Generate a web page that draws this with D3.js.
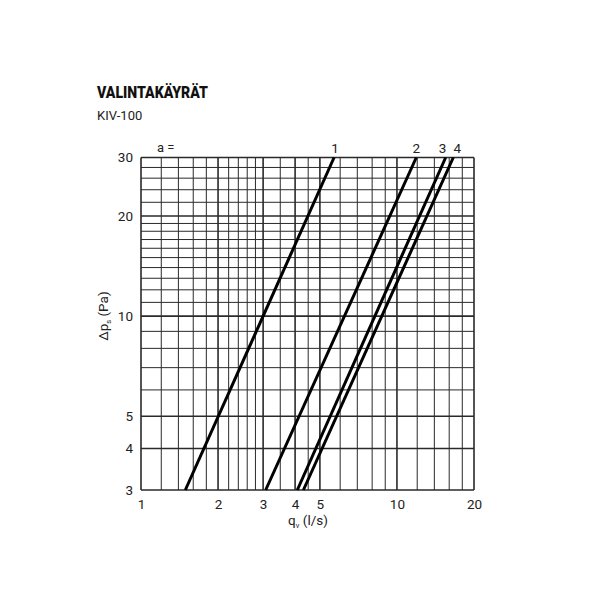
<!DOCTYPE html>
<html><head><meta charset="utf-8">
<script src="https://cdn.jsdelivr.net/npm/d3@7"></script>
<style>body{margin:0;background:#fff;} svg{display:block;font-family:Roboto, "Noto Sans", sans-serif;}</style>
</head><body>
<script>
// Data
const curveNames = ["1", "2", "3", "4"];
const dpRange = [3, 30];                    // Δp (Pa) at the start and end of each curve
const qAtStart = [1.49, 3.07, 4.08, 4.31];  // q (l/s) at Δp = 3
const qAtEnd = [5.68, 11.9, 15.5, 16.6];    // q (l/s) at Δp = 30
const xTickLabels = [1, 2, 3, 4, 5, 10, 20];
const yTickLabels = [3, 4, 5, 10, 20, 30];
const xGrid = [1,1.2,1.4,1.6,1.8,2,2.2,2.4,2.6,2.8,3,3.5,4,4.5,5,6,7,8,9,10,12,14,16,18,20];
const yGrid = [3,4,5,6,7,8,9,10,11,12,13,14,15,16,17,18,19,20,22,24,26,28,30];

const W = 607, H = 600;
const svg = d3.select("body").append("svg").attr("width", W).attr("height", H);

const x = d3.scaleLog().domain([1, 20]).range([141, 474]);
const y = d3.scaleLog().domain([3, 30]).range([490, 157.5]);

svg.append("text").attr("x", 97).attr("y", 98).attr("font-size", 16).attr("font-weight", "900")
  .attr("fill", "#111").attr("textLength", 111).attr("lengthAdjust", "spacingAndGlyphs").text("VALINTAKÄYRÄT");
svg.append("text").attr("x", 97).attr("y", 120).attr("font-size", 13).attr("fill", "#222").text("KIV-100");

const g = svg.append("g");
// grid
g.selectAll("line.vx").data(xGrid).enter().append("line")
  .attr("x1", d => x(d)).attr("x2", d => x(d)).attr("y1", y(30)).attr("y2", y(3))
  .attr("stroke", "#2a2a2a").attr("stroke-width", d => xTickLabels.includes(d) ? 1.6 : 1);
g.selectAll("line.hy").data(yGrid).enter().append("line")
  .attr("y1", d => y(d)).attr("y2", d => y(d)).attr("x1", x(1)).attr("x2", x(20))
  .attr("stroke", "#2a2a2a").attr("stroke-width", d => yTickLabels.includes(d) ? 1.6 : 1);

// axes labels via d3 axes
const xAxis = d3.axisBottom(x).tickValues(xTickLabels).tickFormat(d3.format("d")).tickSize(0).tickPadding(9);
const xa = svg.append("g").attr("transform", `translate(0,${y(3)})`).call(xAxis);
xa.select(".domain").remove();
xa.selectAll("text").attr("font-size", 13.5).attr("fill", "#222").attr("font-family", "Roboto");

const yAxis = d3.axisLeft(y).tickValues(yTickLabels).tickFormat(d3.format("d")).tickSize(0).tickPadding(8);
const ya = svg.append("g").attr("transform", `translate(${x(1)},0)`).call(yAxis);
ya.select(".domain").remove();
ya.selectAll("text").attr("font-size", 13.5).attr("fill", "#222").attr("font-family", "Roboto");

// axis titles
const xt = svg.append("text").attr("x", 308).attr("y", 525).attr("text-anchor", "middle")
  .attr("font-size", 13.5).attr("fill", "#222");
xt.append("tspan").text("q");
xt.append("tspan").attr("font-size", 7.5).attr("dy", 3).text("v");
xt.append("tspan").attr("dy", -3).text(" (l/s)");

const yt = svg.append("text").attr("transform", `translate(108,${y(10)}) rotate(-90)`).attr("text-anchor", "middle")
  .attr("font-size", 13.5).attr("fill", "#222");
yt.append("tspan").text("Δp");
yt.append("tspan").attr("font-size", 7.5).attr("dy", 3).text("s");
yt.append("tspan").attr("dy", -3).text(" (Pa)");

svg.append("text").attr("x", 157).attr("y", 152).attr("font-size", 13).attr("fill", "#222").text("a =");

// curves
const curves = curveNames.map((n, i) => ({name: n, pts: [[qAtStart[i], dpRange[0]], [qAtEnd[i], dpRange[1]]]}));
const line = d3.line().x(d => x(d[0])).y(d => y(d[1]));
svg.selectAll("path.curve").data(curves).enter().append("path")
  .attr("d", d => line(d.pts)).attr("fill", "none").attr("stroke", "#000").attr("stroke-width", 3);

const labelShift = [1, 0, -3, 4];
svg.selectAll("text.cl").data(curves).enter().append("text")
  .attr("x", (d, i) => x(d.pts[1][0]) + labelShift[i]).attr("y", 153)
  .attr("text-anchor", "middle").attr("font-size", 13.5).attr("fill", "#222").text(d => d.name);
</script>
</body></html>
